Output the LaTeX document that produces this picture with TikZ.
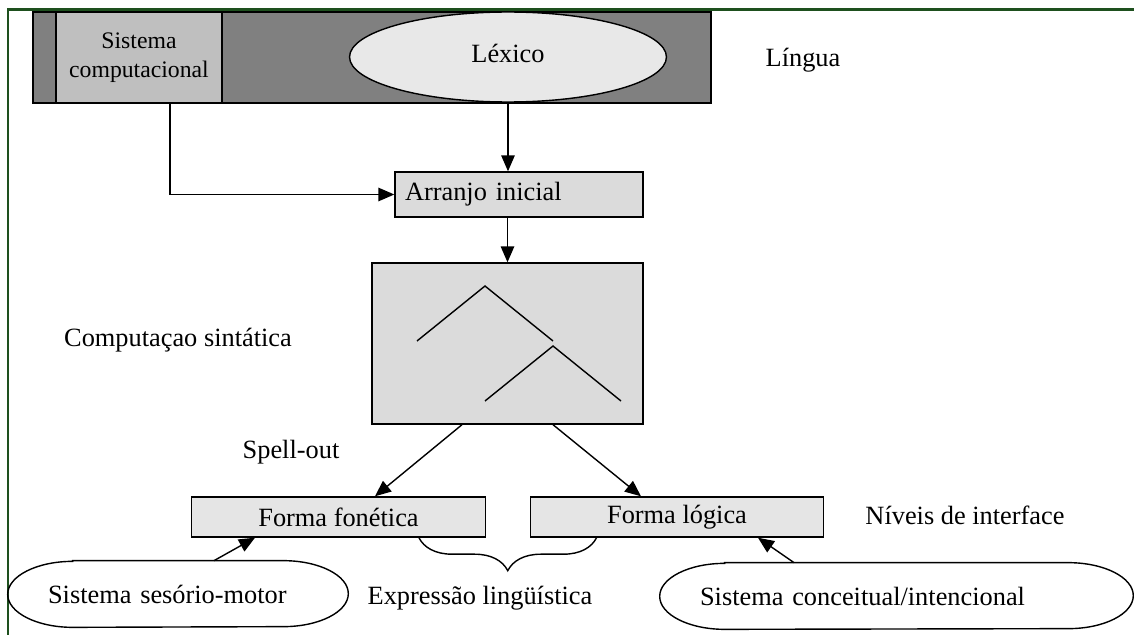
\documentclass[tikz,border=0pt]{standalone}
\usepackage{fontspec}
\setmainfont{Liberation Serif}
\usetikzlibrary{arrows.meta, positioning, shapes.geometric, decorations.pathreplacing}

\definecolor{framegreen}{RGB}{30,80,30}

\begin{document}
\begin{tikzpicture}[
    x=0.02cm, y=-0.02cm,
    >={Triangle[length=0.32cm, width=0.27cm]},
    font=\fontsize{15}{17}\selectfont,
    box/.style={rectangle, draw=black, line width=0.8pt, fill=black!14,
                inner sep=0pt, align=center},
    formbox/.style={box, fill=black!10, minimum width=5.87cm, minimum height=0.8cm},
    sysnode/.style={rectangle, minimum height=1.32cm, inner xsep=0.8cm,
                inner ysep=0pt, align=left},
    arrow/.style={->, line width=0.8pt},
    note/.style={inner sep=1pt}
]
\useasboundingbox (0,0) rectangle (1134,635);

% Frame
\draw[framegreen, line width=1.2pt] (1134,9.5) -- (8,9.5) -- (8,635);

% Lingua
\node[box, fill=black!50, minimum width=13.56cm, minimum height=1.82cm] (band) at (372,57.5) {};
\node[box, fill=black!25, minimum width=3.32cm, minimum height=1.82cm,
      font=\fontsize{13.5}{16.5}\selectfont] (sistema) at (139,57.5) {Sistema\\computacional};
\node[ellipse, draw=black, line width=0.8pt, fill=black!9, minimum width=6.34cm,
      minimum height=1.8cm, inner sep=0pt] (lexico) at (508,57) {\raisebox{0.16cm}{Léxico}};
\node[note] (lingua) at (803,60) {Língua};

% Arranjo inicial
\node[box, minimum height=0.9cm, text width=4.56cm, inner xsep=0.2cm, align=left] (arranjo) at (519,194.5) {\raisebox{-0.08cm}{Arranjo inicial}};

% Computacao sintatica
\node[box, minimum width=5.42cm, minimum height=3.22cm] (comp) at (507.5,343.5) {};
\draw[line width=0.8pt] (417,341) -- (485,286) -- (553,341);
\draw[line width=0.8pt] (485,401) -- (553,346) -- (621,401);
\node[note] (compsint) at (178,340) {Computaçao sintática};
\node[note] (spellout) at (291,452) {Spell-out};

% Interface levels
\node[formbox] (fonetica) at (338.5,517) {\raisebox{-0.06cm}{Forma fonética}};
\node[formbox] (logica) at (677,517) {\raisebox{-0.06cm}{Forma lógica}};
\node[note] (niveis) at (965,515) {Níveis de interface};

% Systems
\node[sysnode, minimum width=6.8cm, text width=5.2cm] (sesorio) at (178,594) {Sistema sesório-motor};
\node[sysnode, minimum width=9.46cm, text width=7.86cm] (conceitual) at (896.5,596) {Sistema conceitual/intencional};
\draw[line width=0.8pt] ([xshift=1.3cm]sesorio.north west) -- ([xshift=-1.3cm]sesorio.north east)
    arc[start angle=90, end angle=-90, x radius=1.3cm, y radius=0.66cm]
    -- ([xshift=1.3cm]sesorio.south west)
    arc[start angle=270, end angle=90, x radius=1.3cm, y radius=0.66cm] -- cycle;
\draw[line width=0.8pt] ([xshift=1.3cm]conceitual.north west) -- ([xshift=-1.3cm]conceitual.north east)
    arc[start angle=90, end angle=-90, x radius=1.3cm, y radius=0.66cm]
    -- ([xshift=1.3cm]conceitual.south west)
    arc[start angle=270, end angle=90, x radius=1.3cm, y radius=0.66cm] -- cycle;
\node[note] (expressao) at (480,598) {Expressão lingüística};

% Arrows
\draw[arrow] ([xshift=0.62cm]sistema.south) |- (arranjo.west);
\draw[arrow] (lexico.south) -- (lexico.south |- arranjo.north);
\draw[arrow] (arranjo.south -| comp.north) -- (comp.north);
\draw[arrow] ([xshift=-0.91cm]comp.south) -- ([xshift=0.73cm]fonetica.north);
\draw[arrow] ([xshift=0.91cm]comp.south) -- ([xshift=-0.72cm]logica.north);
\draw[arrow] ([xshift=0.72cm]sesorio.north) -- ([xshift=-1.67cm]fonetica.south);
\draw[arrow] ([xshift=-2.05cm]conceitual.north) -- ([xshift=1.62cm]logica.south);

% Brace
\draw[line width=0.8pt, decorate, decoration={brace, mirror, amplitude=0.66cm}]
    ([xshift=-1.34cm]fonetica.south east) -- ([xshift=1.34cm]logica.south west);

\end{tikzpicture}
\end{document}
